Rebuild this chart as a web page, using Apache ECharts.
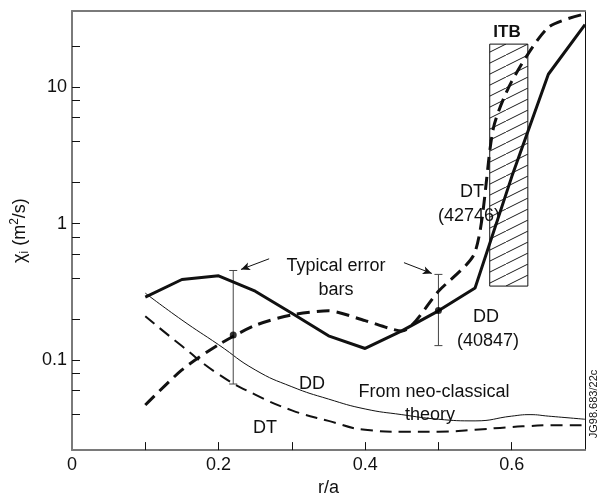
<!DOCTYPE html>
<html>
<head>
<meta charset="utf-8">
<script src="https://cdn.jsdelivr.net/npm/echarts@6/dist/echarts.min.js"></script>
<style>
html,body{margin:0;padding:0;background:#fff;}
#chart{width:601px;height:502px;}
</style>
</head>
<body>
<div id="chart"></div>
<script>
// ---- data ----
const rA = [0.10, 0.15, 0.20, 0.25, 0.30, 0.35, 0.40, 0.45, 0.50, 0.55, 0.60, 0.65, 0.70];
const ddExp = [0.29, 0.39, 0.415, 0.32, 0.221, 0.151, 0.122, 0.164, 0.23, 0.338, 2.2, 12.4, 28.6];
const rA_dt = [0.10, 0.15, 0.20, 0.25, 0.30, 0.35, 0.40, 0.45, 0.50, 0.55, 0.575, 0.60, 0.65, 0.70];
const dtExp = [0.047, 0.085, 0.13, 0.18, 0.215, 0.23, 0.195, 0.164, 0.32, 0.62, 5.0, 11, 27.3, 34.3];
const rA_neo = [0.10, 0.15, 0.20, 0.25, 0.30, 0.35, 0.40, 0.45, 0.50, 0.55, 0.60, 0.625, 0.65, 0.70];
const ddNeo = [0.31, 0.197, 0.13, 0.085, 0.064, 0.052, 0.044, 0.040, 0.037, 0.036, 0.039, 0.040, 0.039, 0.037];
const dtNeo = [0.21, 0.127, 0.079, 0.056, 0.043, 0.036, 0.031, 0.030, 0.030, 0.031, 0.0325, 0.033, 0.0335, 0.0335];
// error bars: [r/a, low, high, centre]
const errR = [0.22, 0.50];
const errLow = [0.067, 0.128];
const errHigh = [0.454, 0.425];
const errMid = [0.153, 0.231];
// ITB region
const itbR = [0.570, 0.622];
const itbChi = [0.349, 20.6];
// axis ticks
const xTickValues = [0.1, 0.2, 0.3, 0.4, 0.5, 0.6];
const xTickLabels = ['0', '0.2', '0.4', '0.6'];
const xLabelValues = [0, 0.2, 0.4, 0.6];
const yLabelValues = [0.1, 1, 10];
const yTickLabels = ['0.1', '1', '10'];
const yMinorTicks = [0.04, 0.06, 0.08, 0.2, 0.4, 0.6, 0.8, 2, 4, 6, 8, 20];
const yRange = [0.022, 36];

const L = Math.log10;
const FONT = '"Liberation Sans", Arial, sans-serif';

// hatch pattern
const pat = document.createElement('canvas');
pat.width = 22; pat.height = 11;
const pc = pat.getContext('2d');
pc.fillStyle = '#fff'; pc.fillRect(0, 0, 22, 11);
pc.strokeStyle = '#000'; pc.lineWidth = 0.9;
pc.beginPath(); pc.moveTo(-2, 12); pc.lineTo(24, -1); pc.stroke();

const chart = echarts.init(document.getElementById('chart'), null, {renderer: 'canvas'});

function pairs(xs, ys) { return xs.map((x, i) => [x, L(ys[i])]); }

const yMin = L(yRange[0]), yMax = L(yRange[1]);

const option = {
  backgroundColor: '#fff',
  animation: false,
  grid: {left: 72, right: 16, top: 11, bottom: 41, containLabel: false},
  xAxis: [{
    type: 'value', min: 0, max: 0.7, interval: 0.1, position: 'bottom',
    name: 'r/a', nameLocation: 'middle', nameGap: 28,
    nameTextStyle: {fontFamily: FONT, fontSize: 18, color: '#111'},
    axisLine: {show: true, onZero: false, lineStyle: {color: '#7a7a7a', width: 2}},
    axisTick: {show: true, inside: true, length: 8, lineStyle: {color: '#111', width: 1}, customValues: xTickValues},
    axisLabel: {fontFamily: FONT, fontSize: 18, color: '#111', margin: 6, customValues: xLabelValues,
      formatter: v => { const i = xLabelValues.findIndex(t => Math.abs(t - v) < 1e-6); return i >= 0 ? xTickLabels[i] : ''; }},
    splitLine: {show: false}
  }, {
    type: 'value', min: 0, max: 0.7, position: 'top',
    axisLine: {show: true, onZero: false, lineStyle: {color: '#7a7a7a', width: 2}},
    axisTick: {show: false}, axisLabel: {show: false}, splitLine: {show: false}
  }],
  yAxis: [{
    type: 'value', min: yMin, max: yMax, position: 'left',
    name: '{a|χ}{s|i}{a| (m}{p|2}{a|/s)}', nameLocation: 'middle', nameGap: 34,
    nameTextStyle: {
      fontFamily: FONT, fontSize: 18, color: '#111',
      rich: {
        a: {fontFamily: FONT, fontSize: 18, color: '#111', lineHeight: 22},
        s: {fontFamily: FONT, fontSize: 12, color: '#111', verticalAlign: 'bottom', lineHeight: 22},
        p: {fontFamily: FONT, fontSize: 12, color: '#111', verticalAlign: 'top', lineHeight: 22}
      }
    },
    axisLine: {show: true, onZero: false, lineStyle: {color: '#7a7a7a', width: 2}},
    axisTick: {show: true, inside: true, length: 8, lineStyle: {color: '#111', width: 1},
      customValues: yLabelValues.concat(yMinorTicks).map(L)},
    axisLabel: {fontFamily: FONT, fontSize: 18, color: '#111', margin: 5, customValues: yLabelValues.map(L),
      formatter: v => { const i = yLabelValues.findIndex(t => Math.abs(L(t) - v) < 1e-6); return i >= 0 ? yTickLabels[i] : ''; }},
    splitLine: {show: false}
  }, {
    type: 'value', min: yMin, max: yMax, position: 'right',
    axisLine: {show: true, onZero: false, lineStyle: {color: '#111', width: 1}},
    axisTick: {show: false}, axisLabel: {show: false}, splitLine: {show: false}
  }],
  series: [
    {
      name: 'DD neo', type: 'line', data: pairs(rA_neo, ddNeo), smooth: true, symbol: 'none',
      lineStyle: {color: '#111', width: 1}, z: 2
    },
    {
      name: 'DT neo', type: 'line', data: pairs(rA_neo, dtNeo), smooth: true, symbol: 'none',
      lineStyle: {color: '#111', width: 2, type: [12, 7]}, z: 2
    },
    {
      name: 'DD 40847', type: 'line', data: pairs(rA, ddExp), symbol: 'none',
      lineStyle: {color: '#111', width: 3}, z: 4,
      markArea: {
        silent: true,
        itemStyle: {color: {image: pat, repeat: 'repeat'}, borderColor: '#111', borderWidth: 1},
        data: [[{coord: [itbR[0], L(itbChi[1])]}, {coord: [itbR[1], L(itbChi[0])]}]]
      },
      markLine: {
        silent: true, symbol: ['none', 'arrow'], symbolSize: [6, 9],
        lineStyle: {color: '#111', width: 1, type: 'solid'}, label: {show: false},
        data: [
          [{coord: [0.269, L(0.553)]}, {coord: [0.2306, L(0.462)]}],
          [{coord: [0.453, L(0.518)]}, {coord: [0.491, L(0.432)]}]
        ]
      }
    },
    {
      name: 'DT 42746', type: 'line', data: pairs(rA_dt, dtExp), smooth: 0.25, symbol: 'none',
      lineStyle: {color: '#111', width: 3, type: [13, 7]}, z: 4
    },
    {
      name: 'error bars', type: 'custom', z: 3,
      data: errR.map((x, i) => [x, L(errLow[i]), L(errHigh[i])]),
      renderItem: (params, api) => {
        const x = api.value(0);
        const p1 = api.coord([x, api.value(1)]);
        const p2 = api.coord([x, api.value(2)]);
        const st = {stroke: '#444', lineWidth: 1};
        return {type: 'group', children: [
          {type: 'line', shape: {x1: p1[0], y1: p1[1], x2: p2[0], y2: p2[1]}, style: st},
          {type: 'line', shape: {x1: p1[0] - 4, y1: p1[1], x2: p1[0] + 4, y2: p1[1]}, style: st},
          {type: 'line', shape: {x1: p2[0] - 4, y1: p2[1], x2: p2[0] + 4, y2: p2[1]}, style: st}
        ]};
      }
    },
    {
      name: 'points', type: 'scatter', z: 5, symbol: 'circle', symbolSize: 7,
      itemStyle: {color: '#000'},
      data: errR.map((x, i) => [x, L(errMid[i])])
    }
  ],
  graphic: [
    {type: 'text', z: 100, x: 507, y: 32, style: {text: 'ITB', font: 'bold 17px ' + FONT, fill: '#111', align: 'center', verticalAlign: 'middle'}},
    {type: 'text', z: 100, x: 472, y: 192, style: {text: 'DT', font: '18px ' + FONT, fill: '#111', align: 'center', verticalAlign: 'middle'}},
    {type: 'text', z: 100, x: 469, y: 216, style: {text: '(42746)', font: '18px ' + FONT, fill: '#111', align: 'center', verticalAlign: 'middle'}},
    {type: 'text', z: 100, x: 486, y: 317, style: {text: 'DD', font: '18px ' + FONT, fill: '#111', align: 'center', verticalAlign: 'middle'}},
    {type: 'text', z: 100, x: 488, y: 341, style: {text: '(40847)', font: '18px ' + FONT, fill: '#111', align: 'center', verticalAlign: 'middle'}},
    {type: 'text', z: 100, x: 336, y: 266, style: {text: 'Typical error', font: '18px ' + FONT, fill: '#111', align: 'center', verticalAlign: 'middle'}},
    {type: 'text', z: 100, x: 336, y: 290, style: {text: 'bars', font: '18px ' + FONT, fill: '#111', align: 'center', verticalAlign: 'middle'}},
    {type: 'text', z: 100, x: 312, y: 384, style: {text: 'DD', font: '18px ' + FONT, fill: '#111', align: 'center', verticalAlign: 'middle'}},
    {type: 'text', z: 100, x: 265, y: 428, style: {text: 'DT', font: '18px ' + FONT, fill: '#111', align: 'center', verticalAlign: 'middle'}},
    {type: 'text', z: 100, x: 434, y: 392, style: {text: 'From neo-classical', font: '18px ' + FONT, fill: '#111', align: 'center', verticalAlign: 'middle'}},
    {type: 'text', z: 100, x: 430, y: 415, style: {text: 'theory', font: '18px ' + FONT, fill: '#111', align: 'center', verticalAlign: 'middle'}},
    {type: 'text', z: 100, x: 594, y: 404, rotation: Math.PI / 2, style: {text: 'JG98.683/22c', font: '11px ' + FONT, fill: '#111', align: 'center', verticalAlign: 'middle'}}
  ]
};
chart.setOption(option);
</script>
</body>
</html>
